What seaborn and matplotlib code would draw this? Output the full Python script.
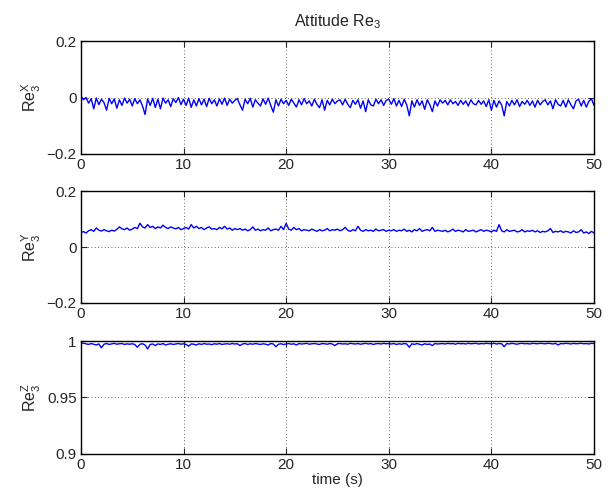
import numpy as np
import pandas as pd
import matplotlib
matplotlib.use("Agg")
import matplotlib.pyplot as plt
import seaborn as sns

# ---------------------------
# DATA (0.25 s step)
# ---------------------------
t_step = 0.25
n_pts = 201

# Re3 X component, in thousandths
re3_x_milli = [
    5, -8, 0, -20, -4, -40, -2, -25, -6, -18, -45, -3, -22, -5, -38, -8, -28, -2, -20, -6, -30,
    -4, -22, -8, -30, -60, -5, -28, -3, -35, -6, -40, -2, -20, -8, -32, -4, -18, 0, -25, -6,
    -28, -2, -35, -8, -30, -4, -26, -6, -32, -3, -22, -8, -30, -5, -24, -2, -28, -6, -20, -10,
    -4, -26, -45, -6, -22, -3, -34, -8, -20, -30, -5, -24, -2, -28, -52, -8, -30, -6, -22, -10,
    -28, -6, -20, -34, -8, -26, -4, -22, -12, -30, -6, -24, -36, -8, -45, -10, -26, -6, -22, -12,
    -8, -26, -6, -24, -36, -10, -24, -8, -38, -12, -50, -8, -26, -30, -6, -22, -8, -28, -10, -6,
    -24, -4, -30, -10, -32, -6, -26, -65, -12, -34, -8, -28, -12, -42, -8, -26, -50, -12, -30, -8,
    -20, -10, -26, -8, -22, -14, -28, -10, -24, -12, -30, -8, -22, -26, -10, -24, -12, -32, -8, -45,
    -10, -34, -12, -26, -65, -14, -30, -10, -26, -8, -32, -14, -24, -10, -28, -12, -34, -10, -26, -14,
    -8, -26, -12, -40, -8, -24, -30, -10, -34, -8, -26, -40, -12, -6, -30, -10, -34, -14, -4, -28,
]

# Re3 Y component, in thousandths
re3_y_milli = [
    52, 55, 50, 58, 62, 56, 68, 60, 57, 62, 58, 55, 60, 57, 63, 72, 65, 62, 68, 60, 64,
    70, 66, 85, 72, 68, 80, 70, 74, 66, 72, 68, 78, 70, 66, 72, 68, 65, 70, 62, 66,
    70, 64, 80, 68, 74, 66, 70, 62, 68, 72, 64, 66, 62, 70, 65, 74, 64, 68, 60, 66,
    62, 66, 60, 64, 58, 62, 72, 60, 64, 58, 62, 60, 68, 58, 62, 64, 60, 74, 62, 85,
    64, 60, 70, 62, 66, 58, 62, 60, 58, 64, 60, 56, 62, 58, 60, 66, 58, 62, 60, 64,
    58, 62, 70, 60, 56, 62, 58, 74, 60, 56, 62, 58, 60, 56, 64, 58, 60, 62, 56, 60,
    58, 62, 56, 60, 58, 64, 56, 60, 54, 62, 58, 66, 56, 60, 62, 58, 70, 56, 60, 58,
    56, 60, 54, 58, 64, 56, 60, 58, 54, 62, 56, 58, 60, 54, 58, 62, 56, 60, 58, 54,
    60, 56, 80, 58, 54, 62, 56, 58, 60, 54, 56, 62, 54, 58, 56, 60, 54, 58, 52, 56,
    54, 58, 66, 52, 56, 54, 58, 52, 56, 54, 50, 58, 52, 54, 62, 50, 54, 48, 56, 50,
]

# Re3 Z component: deficit below 1, in units of 1e-4
re3_z_deficit = [
    22, 18, 25, 30, 22, 28, 35, 25, 60, 28, 22, 30, 25, 20, 28, 24, 22, 30, 25, 28, 24,
    30, 55, 28, 24, 35, 70, 30, 26, 40, 25, 30, 22, 35, 28, 24, 30, 26, 22, 28, 24,
    30, 45, 25, 28, 35, 24, 30, 22, 28, 26, 32, 24, 28, 22, 30, 26, 24, 28, 22, 26,
    24, 40, 26, 22, 30, 24, 28, 22, 26, 30, 24, 28, 35, 22, 26, 50, 28, 24, 30, 26,
    22, 28, 24, 35, 22, 26, 24, 20, 28, 24, 22, 26, 30, 22, 24, 28, 22, 26, 40, 24,
    22, 26, 24, 28, 20, 24, 26, 22, 28, 24, 20, 26, 22, 30, 24, 22, 26, 20, 24, 22,
    26, 22, 30, 24, 28, 22, 26, 55, 24, 30, 22, 28, 35, 24, 30, 26, 40, 22, 26, 24,
    22, 26, 20, 24, 22, 28, 20, 24, 22, 26, 20, 24, 22, 20, 26, 22, 24, 20, 22, 24,
    20, 26, 22, 24, 50, 22, 26, 20, 24, 28, 22, 20, 24, 22, 26, 20, 22, 24, 20, 22,
    24, 20, 22, 26, 20, 35, 22, 24, 20, 22, 26, 20, 24, 22, 20, 24, 22, 26, 20, 22,
]

x_ticks = [0, 10, 20, 30, 40, 50]
y_ticks_xy = [-0.2, 0, 0.2]
y_ticklabels_xy = ["\u22120.2", "0", "0.2"]
y_ticks_z = [0.9, 0.95, 1.0]
y_ticklabels_z = ["0.9", "0.95", "1"]

# ---------------------------
# BUILD FRAME
# ---------------------------
time = np.arange(n_pts) * t_step
df = pd.DataFrame({
    "time": time,
    "x": np.array(re3_x_milli) / 1000.0,
    "y": np.array(re3_y_milli) / 1000.0,
    "z": 1.0 - np.array(re3_z_deficit) / 10000.0,
})

# ---------------------------
# PLOT
# ---------------------------
sns.set_style("ticks")
plt.rcParams["font.family"] = ["Liberation Sans", "DejaVu Sans"]
plt.rcParams["mathtext.fontset"] = "custom"
plt.rcParams["mathtext.rm"] = "Liberation Sans"
plt.rcParams["mathtext.it"] = "Liberation Sans"

fig = plt.figure(figsize=(6.13, 4.95), dpi=100)
left, width = 0.132, 0.837
boxes = [(0.689, 0.228), (0.388, 0.226), (0.083, 0.228)]

panels = [
    ("x", y_ticks_xy, y_ticklabels_xy, (-0.2, 0.2), r"Re$_{3}^{\mathrm{X}}$"),
    ("y", y_ticks_xy, y_ticklabels_xy, (-0.2, 0.2), r"Re$_{3}^{\mathrm{Y}}$"),
    ("z", y_ticks_z, y_ticklabels_z, (0.9, 1.0), r"Re$_{3}^{\mathrm{Z}}$"),
]

for (bottom, height), (col, yt, ytl, ylim, ylab) in zip(boxes, panels):
    ax = fig.add_axes([left, bottom, width, height])
    sns.lineplot(data=df, x="time", y=col, ax=ax, color="#0000ff", linewidth=1.0)
    ax.set_xlim(0, 50)
    ax.set_ylim(*ylim)
    ax.set_xticks(x_ticks)
    ax.set_xticklabels([str(v) for v in x_ticks], fontsize=11)
    ax.set_yticks(yt)
    ax.set_yticklabels(ytl, fontsize=11)
    ax.grid(True, color="black", linestyle=(0, (1, 3)), linewidth=0.6, alpha=0.8)
    ax.tick_params(direction="in", length=4, width=0.8, top=True, right=True, pad=3)
    for sp in ax.spines.values():
        sp.set_visible(True)
        sp.set_linewidth(1.0)
        sp.set_color("black")
    ax.set_ylabel(ylab, fontsize=11.5, labelpad=3)
    ax.set_xlabel("")
    if col == "x":
        ax.set_title(r"Attitude Re$_{3}$", fontsize=11.5, pad=11)
    if col == "z":
        ax.set_xlabel("time (s)", fontsize=11, labelpad=1)

fig.savefig("out.png", dpi=100)
